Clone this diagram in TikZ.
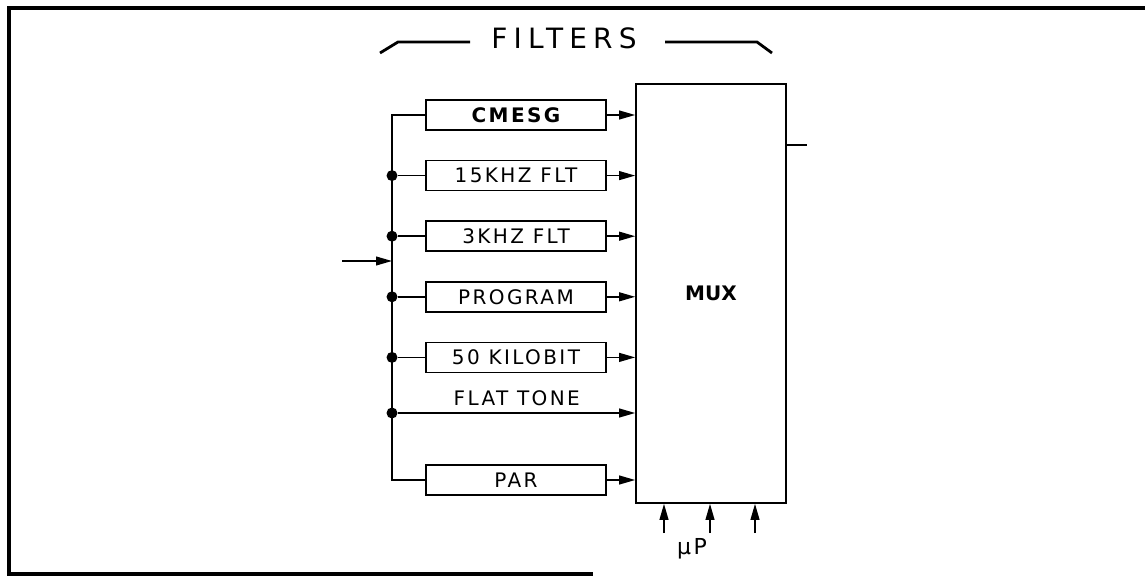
\documentclass[tikz,border=0pt]{standalone}
\usepackage{fontspec}
\setmainfont{DejaVu Sans}
\newfontfamily\lblfont[LetterSpace=12]{DejaVu Sans}
\newfontfamily\ttlfont[LetterSpace=22]{DejaVu Sans}
\usetikzlibrary{positioning, arrows.meta}

\begin{document}
\begin{tikzpicture}[
  x=0.5pt, y=-0.5pt,
  line width=0.8pt,
  lbl/.style={font=\lblfont\fontsize{10}{11}\selectfont, inner sep=1pt},
  fbox/.style={lbl, draw, minimum width=90pt, minimum height=15pt, inner sep=0pt},
  sig/.style={-{Triangle[length=8pt, width=4.4pt]}},
  tap/.style={circle, fill, inner sep=0pt, minimum size=5.5pt},
  frame/.style={line width=1.8pt}
]
\useasboundingbox (0,0) rectangle (1145,577);
\draw[frame] (1145,8) -- (9,8) -- (9,574) -- (593,574);

% title bracket
\node[font=\ttlfont\fontsize{14}{15}\selectfont] (filters) at (564,38) {FILTERS};
\draw[line width=1.4pt] (380,53) -- (398,42) -- (470,42);
\draw[line width=1.4pt] (665,42) -- (757,42) -- (772,53);

\node[draw, minimum width=75pt, minimum height=209.5pt,
      font=\bfseries\fontsize{10}{11}\selectfont] (mux) at (711,293.5) {MUX};

% filter boxes
\node[fbox, font=\lblfont\bfseries\fontsize{10}{11}\selectfont] (cmesg) at (516,115) {CMESG};
\node[fbox, below=14.5pt of cmesg] (k15)  {15KHZ FLT};
\node[fbox, below=14.5pt of k15]   (k3)   {3KHZ FLT};
\node[fbox, below=14.5pt of k3]    (prog) {PROGRAM};
\node[fbox, below=14.5pt of prog]  (kilo) {50 KILOBIT};
\node[fbox, below=45.5pt of kilo]  (par)  {PAR};

% input bus
\coordinate (bus) at (392,0);
\coordinate (in) at (342,261);
\draw (cmesg.west) -- (cmesg.west -| bus) -- (par.west -| bus) -- (par.west);
\draw[sig] (in) -- (in -| bus);
\foreach \f in {k15,k3,prog,kilo} {
  \node[tap] (t\f) at (\f.west -| bus) {};
  \draw (t\f) -- (\f.west);
}
\coordinate (flat) at (0,413);
\node[tap] (tflat) at (flat -| bus) {};
\draw[sig] (tflat) -- node[lbl, above=2pt] (flattxt) {FLAT TONE} (flat -| mux.west);

% into the mux
\foreach \f in {cmesg,k15,k3,prog,kilo,par}
  \draw[sig] (\f.east) -- (\f.east -| mux.west);

\coordinate (out) at (807,145);
\draw (out -| mux.east) -- (out);

\foreach \x [count=\i] in {664,710,755} {
  \coordinate (up\i) at (\x,533);
  \draw[sig] (up\i) -- (up\i |- mux.south);
}
\node[lbl, anchor=base, font=\lblfont\fontsize{11}{12}\selectfont] (uplbl) at (692,554) {µP};
\end{tikzpicture}
\end{document}
